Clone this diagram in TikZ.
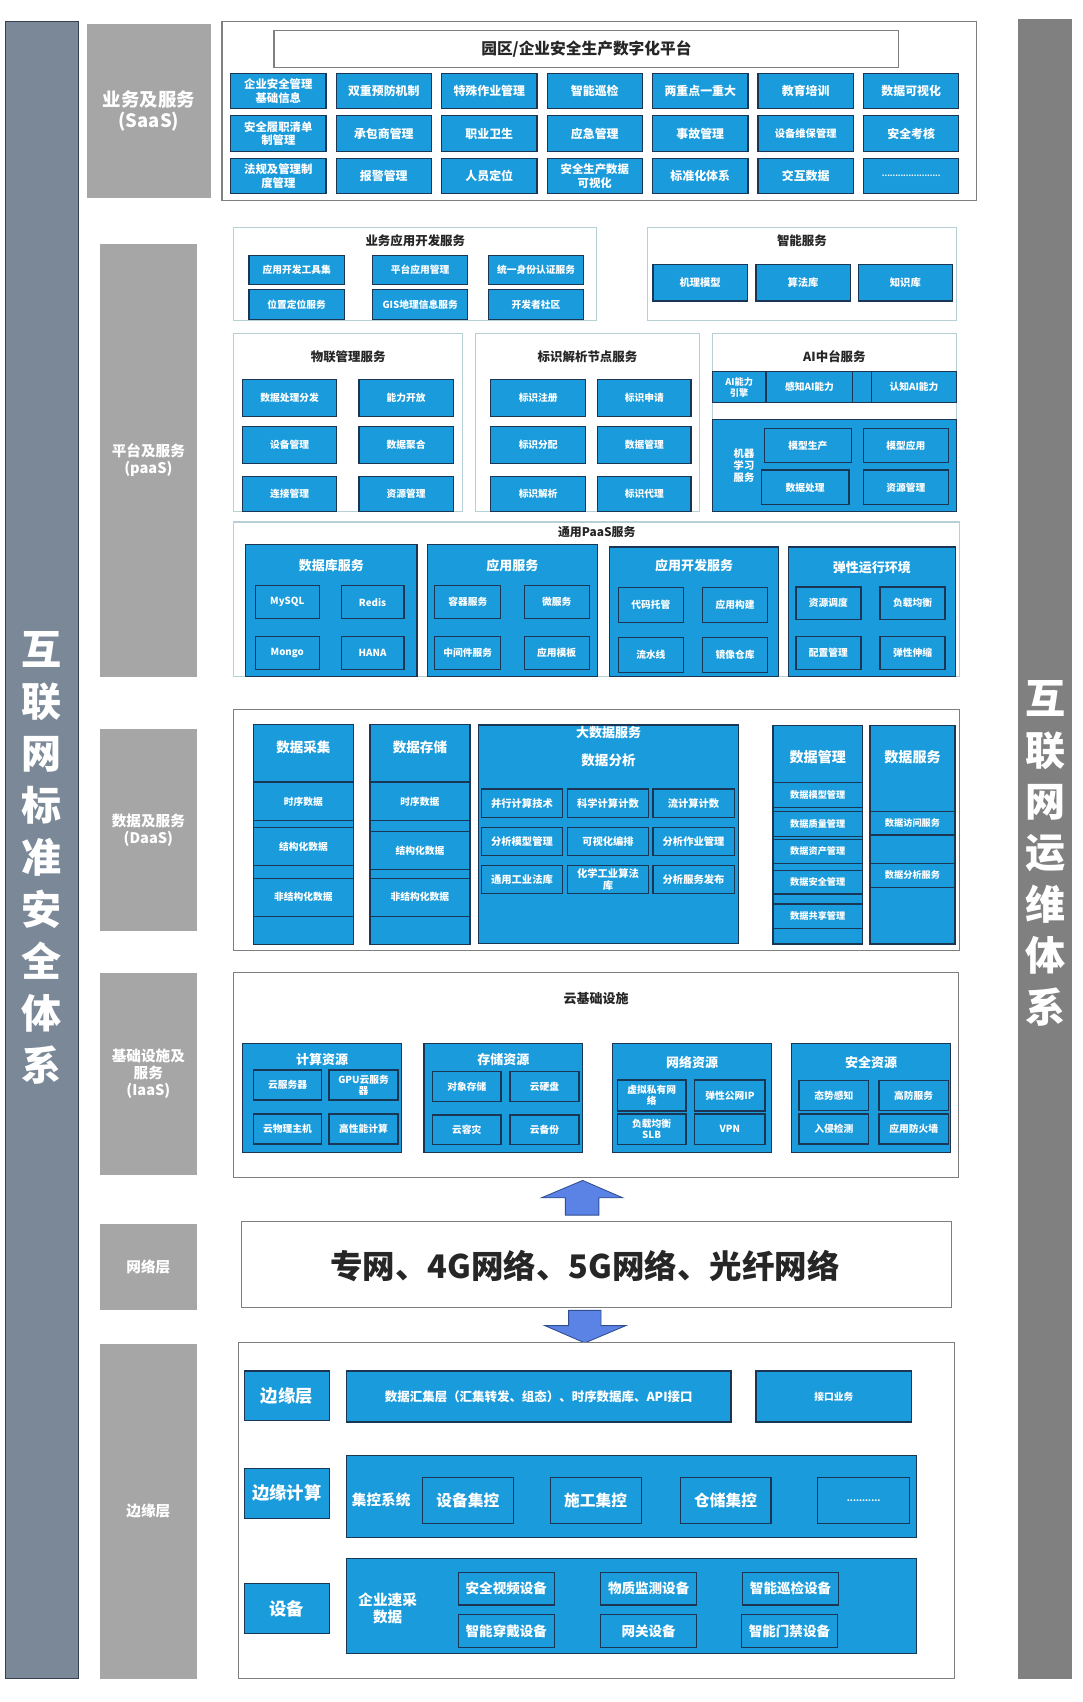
\documentclass[tikz,border=0pt]{standalone}
\usepackage{fontspec}
\setmainfont{Noto Sans CJK SC}
\usetikzlibrary{positioning}

\definecolor{boxblue}{HTML}{1A9BDC}
\definecolor{boxline}{HTML}{1B3555}
\definecolor{labelgray}{HTML}{A6A6A6}
\definecolor{leftcol}{HTML}{7A8898}
\definecolor{leftline}{HTML}{34404E}
\definecolor{rightcol}{HTML}{808080}
\definecolor{frameline}{HTML}{7F7F7F}
\definecolor{paasline}{HTML}{B7D0D6}
\definecolor{titletext}{HTML}{262626}
\definecolor{arrowfill}{HTML}{5B83E6}
\definecolor{arrowline}{HTML}{2F4F8F}

\begin{document}
\begin{tikzpicture}[
    x=1pt, y=-1pt,
    fs/.style={font=\fontsize{#1}{\dimexpr #1pt*118/100\relax}\selectfont\bfseries},
    blk/.style={rectangle, draw=boxline, fill=boxblue, line width=1.1pt, text=white, inner sep=1pt, align=center},
    frm/.style={rectangle, draw=frameline, fill=white, line width=1pt, inner sep=0pt},
    pfrm/.style={rectangle, draw=paasline, fill=white, line width=1pt, inner sep=0pt},
    lbl/.style={rectangle, fill=labelgray, text=white, inner sep=0pt, align=center, minimum width=90},
    ttl/.style={text=titletext, inner sep=0pt, align=center},
    sbox/.style={blk, minimum width=88, minimum height=33, fs=11},
    ibox/.style={blk, minimum width=60, minimum height=30, fs=9},
    ebox/.style={blk, minimum width=89, minimum height=30, fs=12.5}
]
    \useasboundingbox (0,0) rectangle (1000,1571.6);

    % side columns
    \node[rectangle, fill=leftcol, draw=leftline, line width=0.8pt, minimum width=67, minimum height=1530] (lside) at (38.5,785) {};
    \node[text=white, font=\fontsize{37}{48}\selectfont\bfseries, align=center] (lsidetxt) at (38.5,792) {互\\联\\网\\标\\准\\安\\全\\体\\系};
    \node[rectangle, fill=rightcol, minimum width=50, minimum height=1532] (rside) at (965,784) {};
    \node[text=white, font=\fontsize{37}{47.5}\selectfont\bfseries, align=center] (rsidetxt) at (965,788) {互\\联\\网\\运\\维\\体\\系};

    % layer labels
    \node[lbl, minimum width=115, minimum height=161, fs=17] (saasl) at (137.5,102.5) {业务及服务\\(SaaS)};
    \node[lbl, minimum height=400, fs=13.5] (paasl) at (137,425) {平台及服务\\(paaS)};
    \node[lbl, minimum height=187, fs=13.5] (daasl) at (137,766.5) {数据及服务\\(DaaS)};
    \node[lbl, minimum height=187, fs=13.5] (iaasl) at (137,991.5) {基础设施及\\服务\\(IaaS)};
    \node[lbl, minimum height=80, fs=13.5] (netl) at (137,1170) {网络层};
    \node[lbl, minimum height=309, fs=13.5] (edgel) at (137,1395.5) {边缘层};

    % SaaS
    \node[frm, minimum width=697, minimum height=165] (saasf) at (553.5,102.5) {};
    \node[frm, ttl, minimum width=577, minimum height=34, fs=14.5] (plat) at (541.5,45) {园区/企业安全生产数字化平台};
    \node[sbox, fs=10.5] (s11) at (257,84) {企业安全管理\\基础信息};
    \node[sbox, right=8.3pt of s11] (s12) {双重预防机制};
    \node[sbox, right=8.3pt of s12] (s13) {特殊作业管理};
    \node[sbox, right=8.3pt of s13] (s14) {智能巡检};
    \node[sbox, right=8.3pt of s14] (s15) {两重点一重大};
    \node[sbox, right=8.3pt of s15] (s16) {教育培训};
    \node[sbox, right=8.3pt of s16] (s17) {数据可视化};
    \node[sbox, fs=10.5] (s21) at (257,123.5) {安全履职清单\\制管理};
    \node[sbox, right=8.3pt of s21] (s22) {承包商管理};
    \node[sbox, right=8.3pt of s22] (s23) {职业卫生};
    \node[sbox, right=8.3pt of s23] (s24) {应急管理};
    \node[sbox, right=8.3pt of s24] (s25) {事故管理};
    \node[sbox, right=8.3pt of s25, fs=9.5] (s26) {设备维保管理};
    \node[sbox, right=8.3pt of s26] (s27) {安全考核};
    \node[sbox, fs=10.5] (s31) at (257,162.5) {法规及管理制\\度管理};
    \node[sbox, right=8.3pt of s31] (s32) {报警管理};
    \node[sbox, right=8.3pt of s32] (s33) {人员定位};
    \node[sbox, right=8.3pt of s33, fs=10.5] (s34) {安全生产数据\\可视化};
    \node[sbox, right=8.3pt of s34] (s35) {标准化体系};
    \node[sbox, right=8.3pt of s35] (s36) {交互数据};
    \node[sbox, right=8.3pt of s36, fs=7] (s37) {......................};

    % PaaS: business application development
    \node[pfrm, minimum width=335, minimum height=86] (appdev) at (383.5,253) {};
    \node[ttl, fs=11.5] (appdevt) at (383.5,222) {业务应用开发服务};
    \node[blk, minimum width=88, minimum height=27, fs=9] (ad1) at (274,249.5) {应用开发工具集};
    \node[blk, minimum width=88, minimum height=27, fs=9] (ad2) at (388,249.5) {平台应用管理};
    \node[blk, minimum width=88, minimum height=27, fs=9] (ad3) at (495,249.5) {统一身份认证服务};
    \node[blk, minimum width=88, minimum height=28, fs=9] (ad4) at (274,281) {位置定位服务};
    \node[blk, minimum width=88, minimum height=28, fs=9] (ad5) at (388,281) {GIS地理信息服务};
    \node[blk, minimum width=88, minimum height=28, fs=9] (ad6) at (495,281) {开发者社区};

    % PaaS: intelligent services
    \node[pfrm, minimum width=285, minimum height=86] (smart) at (740.5,253) {};
    \node[ttl, fs=11.5] (smartt) at (740.5,222) {智能服务};
    \node[blk, minimum width=87, minimum height=34, fs=9.5] (sm1) at (646.5,261) {机理模型};
    \node[blk, minimum width=87, minimum height=34, fs=9.5] (sm2) at (741.5,261) {算法库};
    \node[blk, minimum width=87, minimum height=34, fs=9.5] (sm3) at (836,261) {知识库};

    % PaaS: IoT management
    \node[pfrm, minimum width=211, minimum height=164] (iot) at (321.5,390) {};
    \node[ttl, fs=11.5] (iott) at (321.5,329) {物联管理服务};
    \node[blk, minimum width=87, minimum height=34, fs=9] (io1) at (267.5,367.5) {数据处理分发};
    \node[blk, minimum width=87, minimum height=34, fs=9] (io2) at (375,367.5) {能力开放};
    \node[blk, minimum width=87, minimum height=34, fs=9] (io3) at (267.5,411) {设备管理};
    \node[blk, minimum width=87, minimum height=34, fs=9] (io4) at (375,411) {数据聚合};
    \node[blk, minimum width=87, minimum height=32, fs=9] (io5) at (267.5,456) {连接管理};
    \node[blk, minimum width=87, minimum height=32, fs=9] (io6) at (375,456) {资源管理};

    % PaaS: identifier resolution
    \node[pfrm, minimum width=207, minimum height=164] (ident) at (542.5,390) {};
    \node[ttl, fs=11.5] (identt) at (542.5,329) {标识解析节点服务};
    \node[blk, minimum width=88, minimum height=34, fs=9] (id1) at (497,367.5) {标识注册};
    \node[blk, minimum width=86, minimum height=34, fs=9] (id2) at (595,367.5) {标识申请};
    \node[blk, minimum width=88, minimum height=34, fs=9] (id3) at (497,411) {标识分配};
    \node[blk, minimum width=86, minimum height=34, fs=9] (id4) at (595,411) {数据管理};
    \node[blk, minimum width=88, minimum height=32, fs=9] (id5) at (497,456) {标识解析};
    \node[blk, minimum width=86, minimum height=32, fs=9] (id6) at (595,456) {标识代理};

    % PaaS: AI platform
    \node[pfrm, minimum width=225, minimum height=164] (ai) at (770.5,390) {};
    \node[ttl, fs=11.5] (ait) at (770.5,329) {AI中台服务};
    \node[blk, minimum width=49, minimum height=29, fs=8.5] (ai1) at (682.5,357.5) {AI能力\\引擎};
    \node[blk, minimum width=79, minimum height=29, fs=9] (ai2) at (747.5,357.5) {感知AI能力};
    \node[blk, minimum width=18, minimum height=29] (ai3) at (796,357.5) {};
    \node[blk, minimum width=78, minimum height=29, fs=9] (ai4) at (844,357.5) {认知AI能力};
    \node[blk, minimum width=225, minimum height=85] (ml) at (770.5,429.5) {};
    \node[text=white, fs=9.5, align=center] (mlt) at (687,430) {机器\\学习\\服务};
    \node[blk, minimum width=80, minimum height=31, fs=9] (ml1) at (746,411.5) {模型生产};
    \node[blk, minimum width=79, minimum height=31, fs=9] (ml2) at (836.5,411.5) {模型应用};
    \node[blk, minimum width=81, minimum height=32, fs=9] (ml3) at (743.5,450) {数据处理};
    \node[blk, minimum width=79, minimum height=32, fs=9] (ml4) at (836.5,450) {资源管理};

    % PaaS: general services
    \node[pfrm, minimum width=670, minimum height=143] (gen) at (551,553.5) {};
    \node[ttl, fs=11] (gent) at (551,491) {通用PaaS服务};
    \node[blk, minimum width=158, minimum height=122] (g1) at (306,564) {};
    \node[text=white, fs=12] (g1t) at (306,522) {数据库服务};
    \node[ibox, minimum width=59] (g11) at (265.3,556) {MySQL};
    \node[ibox, minimum width=58] (g12) at (344,556) {Redis};
    \node[ibox, minimum width=59] (g13) at (265.3,603) {Mongo};
    \node[ibox, minimum width=58] (g14) at (344,603) {HANA};
    \node[blk, minimum width=157, minimum height=122] (g2) at (473.2,564) {};
    \node[text=white, fs=12] (g2t) at (473.2,522) {应用服务};
    \node[ibox, minimum width=61] (g21) at (432,556) {容器服务};
    \node[ibox] (g22) at (514,556) {微服务};
    \node[ibox, minimum width=61] (g23) at (432,603) {中间件服务};
    \node[ibox] (g24) at (514,603) {应用模板};
    \node[blk, minimum width=156, minimum height=120] (g3) at (641,565) {};
    \node[text=white, fs=12] (g3t) at (641,522) {应用开发服务};
    \node[ibox, minimum height=32] (g31) at (601,558.5) {代码托管};
    \node[ibox, minimum height=32] (g32) at (678.7,558.5) {应用构建};
    \node[ibox, minimum height=32] (g33) at (601,605) {流水线};
    \node[ibox, minimum height=32] (g34) at (678.7,605) {镜像仓库};
    \node[blk, minimum width=154, minimum height=120] (g4) at (805,565) {};
    \node[text=white, fs=12] (g4t) at (805,524) {弹性运行环境};
    \node[ibox] (g41) at (765,557) {资源调度};
    \node[ibox] (g42) at (842.6,557) {负载均衡};
    \node[ibox] (g43) at (765,603) {配置管理};
    \node[ibox] (g44) at (842.6,603) {弹性伸缩};

    % DaaS
    \node[frm, minimum width=670, minimum height=223] (daas) at (551,766.5) {};
    \node[blk, minimum width=92.4, minimum height=203] (dc) at (280.2,770.3) {};
    \node[text=white, fs=12.5] (dct) at (280.2,690) {数据采集};
    \node[blk, minimum width=92.4, minimum height=36, fs=9] (dc1) at (280.2,740) {时序数据};
    \node[blk, minimum width=92.4, minimum height=35, fs=9] (dc2) at (280.2,781.5) {结构化数据};
    \node[blk, minimum width=92.4, minimum height=35, fs=9] (dc3) at (280.2,828.5) {非结构化数据};
    \node[blk, minimum width=92.4, minimum height=203] (ds) at (387.8,770.3) {};
    \node[text=white, fs=12.5] (dst) at (387.8,690) {数据存储};
    \node[blk, minimum width=92.4, minimum height=36, fs=9] (ds1) at (387.8,740) {时序数据};
    \node[blk, minimum width=92.4, minimum height=35, fs=9] (ds2) at (387.8,785.5) {结构化数据};
    \node[blk, minimum width=92.4, minimum height=35, fs=9] (ds3) at (387.8,828.5) {非结构化数据};
    \node[blk, minimum width=240, minimum height=201.5] (bd) at (561.9,770.2) {};
    \node[text=white, fs=12] (bdt) at (561.9,676) {大数据服务};
    \node[text=white, fs=12.5] (bda) at (561.9,702) {数据分析};
    \node[blk, minimum width=75, minimum height=26, fs=9.5] (bd1) at (482,741.6) {并行计算技术};
    \node[blk, minimum width=75, minimum height=26, fs=9.5] (bd2) at (561.4,741.6) {科学计算计数};
    \node[blk, minimum width=75, minimum height=26, fs=9.5] (bd3) at (640.4,741.6) {流计算计数};
    \node[blk, minimum width=75, minimum height=26, fs=9.5] (bd4) at (482,777) {分析模型管理};
    \node[blk, minimum width=75, minimum height=26, fs=9.5] (bd5) at (561.4,777) {可视化编排};
    \node[blk, minimum width=75, minimum height=26, fs=9.5] (bd6) at (640.4,777) {分析作业管理};
    \node[blk, minimum width=75, minimum height=26, fs=9.5] (bd7) at (482,812.4) {通用工业法库};
    \node[blk, minimum width=75, minimum height=26, fs=9.5] (bd8) at (561.4,812.4) {化学工业算法\\库};
    \node[blk, minimum width=75, minimum height=26, fs=9.5] (bd9) at (640.4,812.4) {分析服务发布};
    \node[blk, minimum width=82.6, minimum height=201.5] (dm) at (755.1,771) {};
    \node[text=white, fs=13] (dmt) at (755.1,699) {数据管理};
    \node[blk, minimum width=82.6, minimum height=23, fs=8.5] (dm1) at (755.1,733.9) {数据模型管理};
    \node[blk, minimum width=82.6, minimum height=22.5, fs=8.5] (dm2) at (755.1,760.8) {数据质量管理};
    \node[blk, minimum width=82.6, minimum height=22, fs=8.5] (dm3) at (755.1,786) {数据资产管理};
    \node[blk, minimum width=82.6, minimum height=21.5, fs=8.5] (dm4) at (755.1,814.8) {数据安全管理};
    \node[blk, minimum width=82.6, minimum height=22.3, fs=8.5] (dm5) at (755.1,845.9) {数据共享管理};
    \node[blk, minimum width=78.5, minimum height=201.5] (dv) at (842.6,771) {};
    \node[text=white, fs=13] (dvt) at (842.6,699) {数据服务};
    \node[blk, minimum width=78.5, minimum height=22, fs=8.5] (dv1) at (842.6,760) {数据访问服务};
    \node[blk, minimum width=78.5, minimum height=26] (dv2) at (842.6,784) {};
    \node[blk, minimum width=78.5, minimum height=22.3, fs=8.5] (dv3) at (842.6,808.2) {数据分析服务};

    % IaaS
    \node[frm, minimum width=669, minimum height=189] (iaas) at (550.5,992.5) {};
    \node[ttl, fs=12] (iaast) at (550.5,922) {云基础设施};
    \node[blk, minimum width=146.7, minimum height=100.6] (cp) at (297.4,1013.7) {};
    \node[text=white, fs=12] (cpt) at (297.4,978) {计算资源};
    \node[blk, minimum width=63, minimum height=27.7, fs=9] (cp1) at (265.5,1001.9) {云服务器};
    \node[blk, minimum width=63.7, minimum height=27.7, fs=9] (cp2) at (335.7,1001.9) {GPU云服务\\器};
    \node[blk, minimum width=63, minimum height=27.7, fs=9] (cp3) at (265.5,1042.5) {云物理主机};
    \node[blk, minimum width=63.7, minimum height=27.7, fs=9] (cp4) at (335.7,1042.5) {高性能计算};
    \node[blk, minimum width=146.4, minimum height=100.6] (st) at (464.7,1013.7) {};
    \node[text=white, fs=12] (stt) at (464.7,978) {存储资源};
    \node[blk, minimum width=63.2, minimum height=27.8, fs=9] (st1) at (431,1003.4) {对象存储};
    \node[blk, minimum width=63.6, minimum height=27.8, fs=9] (st2) at (502.8,1003.4) {云硬盘};
    \node[blk, minimum width=63.2, minimum height=27, fs=9] (st3) at (431,1043) {云容灾};
    \node[blk, minimum width=63.6, minimum height=27, fs=9] (st4) at (502.8,1043) {云备份};
    \node[blk, minimum width=146.8, minimum height=100.6] (nw) at (639,1013.7) {};
    \node[text=white, fs=12] (nwt) at (639,981) {网络资源};
    \node[blk, minimum width=63.4, minimum height=28.6, fs=9] (nw1) at (601.7,1011.5) {虚拟私有网\\络};
    \node[blk, minimum width=64.7, minimum height=28.6, fs=9] (nw2) at (674,1011.5) {弹性公网IP};
    \node[blk, minimum width=63.4, minimum height=28, fs=9] (nw3) at (601.7,1042.6) {负载均衡\\SLB};
    \node[blk, minimum width=64.7, minimum height=28, fs=9] (nw4) at (674,1042.6) {VPN};
    \node[blk, minimum width=147.2, minimum height=100.6] (sc) at (804.4,1013.7) {};
    \node[text=white, fs=12] (sct) at (804.4,981) {安全资源};
    \node[blk, minimum width=64.2, minimum height=27.6, fs=9] (sc1) at (769.9,1011.5) {态势感知};
    \node[blk, minimum width=64.2, minimum height=27.6, fs=9] (sc2) at (843.7,1011.5) {高防服务};
    \node[blk, minimum width=64.2, minimum height=27.7, fs=9] (sc3) at (769.9,1042.5) {入侵检测};
    \node[blk, minimum width=64.2, minimum height=27.7, fs=9] (sc4) at (843.7,1042.5) {应用防火墙};

    % network layer and arrows
    \fill[arrowfill, draw=arrowline, line width=0.8pt] (538,1090) -- (575,1106) -- (553,1106) -- (553,1122) -- (522,1122) -- (522,1106) -- (500,1106) -- cycle;
    \node[frm, minimum width=656, minimum height=79] (net) at (551,1167.5) {};
    \node[ttl, fs=30] (nett) at (540,1169) {专网、4G网络、5G网络、光纤网络};
    \fill[arrowfill, draw=arrowline, line width=0.8pt] (525,1210) -- (555,1210) -- (555,1224) -- (578,1224) -- (540,1240) -- (503,1224) -- (525,1224) -- cycle;

    % edge layer
    \node[frm, minimum width=661, minimum height=310] (edge) at (550.5,1395) {};
    \node[blk, minimum width=78, minimum height=46, fs=16] (et1) at (265,1289) {边缘层};
    \node[blk, minimum width=355, minimum height=47, fs=11.5] (hub) at (497.5,1289.5) {数据汇集层（汇集转发、组态）、时序数据库、API接口};
    \node[blk, minimum width=144, minimum height=47, fs=9] (iface) at (770,1289.5) {接口业务};
    \node[blk, minimum width=78, minimum height=46, fs=16] (et2) at (265,1379) {边缘计算};
    \node[blk, minimum width=526, minimum height=76] (ctrl) at (583,1382) {};
    \node[text=white, fs=13.5] (ctrlt) at (352,1385) {集控系统};
    \node[blk, minimum width=84, minimum height=43, fs=14.5] (ct1) at (432,1385.5) {设备集控};
    \node[blk, minimum width=84, minimum height=43, fs=14.5] (ct2) at (550,1385.5) {施工集控};
    \node[blk, minimum width=84, minimum height=43, fs=14.5] (ct3) at (670,1385.5) {仓储集控};
    \node[blk, minimum width=85, minimum height=43, fs=8] (ct4) at (797.5,1385.5) {...........};
    \node[blk, minimum width=78, minimum height=46, fs=16] (et3) at (265,1485.5) {设备};
    \node[blk, minimum width=526, minimum height=88] (dev) at (583,1483) {};
    \node[text=white, fs=13.5, align=center] (devt) at (358,1485) {企业速采\\数据};
    \node[ebox] (dv11) at (467.5,1467) {安全视频设备};
    \node[ebox] (dv12) at (599,1467) {物质监测设备};
    \node[ebox] (dv13) at (730,1467) {智能巡检设备};
    \node[ebox] (dv21) at (467.5,1506) {智能穿戴设备};
    \node[ebox] (dv22) at (599,1506) {网关设备};
    \node[ebox] (dv23) at (729,1506) {智能门禁设备};
\end{tikzpicture}
\end{document}
